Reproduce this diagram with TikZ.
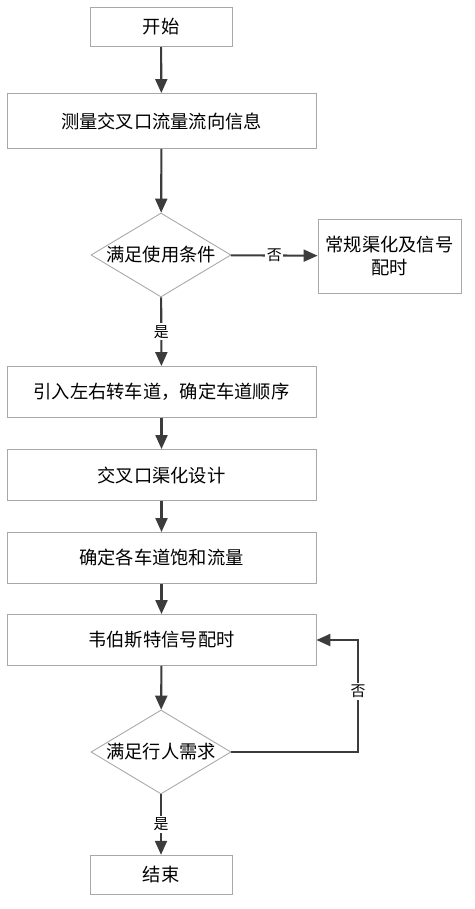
\documentclass[tikz,border=0pt]{standalone}
\usepackage{fontspec}
\setmainfont{Noto Sans CJK SC}
\usepackage{tikz}
\usetikzlibrary{shapes.geometric,arrows.meta}
\definecolor{linegray}{HTML}{A8A8A8}
\definecolor{arrowgray}{HTML}{3C3C3C}

\begin{document}
\begin{tikzpicture}[x=0.02cm,y=-0.02cm,
    box/.style={draw=linegray,line width=0.5pt,fill=white,align=center,font=\fontsize{10.4}{13.5}\selectfont},
    smallbox/.style={box,minimum width=2.84cm,minimum height=0.79cm},
    widebox/.style={box,minimum width=6.18cm,minimum height=1.02cm},
    decide/.style={diamond,draw=linegray,line width=0.5pt,fill=white,inner sep=0pt,minimum width=2.8cm,minimum height=1.68cm,font=\fontsize{10.4}{13.5}\selectfont},
    flow/.style={draw=arrowgray,line width=1.2pt,-{Triangle[length=0.28cm,width=0.24cm]}},
    answer/.style={fill=white,inner sep=1pt,font=\fontsize{8.5}{10}\selectfont}]
    \useasboundingbox (0,0) rectangle (474,909);
    \node[smallbox] (start) at (161,27) {开始};
    \node[widebox,minimum height=1.1cm] (measure) at (161.5,121) {测量交叉口流量流向信息};
    \node[decide] (cond) at (161,255) {\makebox[0pt]{满足使用条件}};
    \node[box,minimum width=2.86cm,minimum height=1.48cm] (normal) at (389.5,256) {常规渠化及信号\\配时};
    \node[widebox] (lanes) at (161.5,392) {引入左右转车道，确定车道顺序};
    \node[widebox] (channel) at (161.5,475) {交叉口渠化设计};
    \node[widebox] (satur) at (161.5,558) {确定各车道饱和流量};
    \node[widebox] (webster) at (161.5,640) {韦伯斯特信号配时};
    \node[decide] (ped) at (161,752) {\makebox[0pt]{满足行人需求}};
    \node[smallbox] (finish) at (161,875) {结束};
    \coordinate (turn) at (358,752);
    \draw[flow] (start) -- (measure);
    \draw[flow] (measure) -- (cond);
    \draw[flow] (cond) -- node[answer] {否} (normal);
    \draw[flow] (cond) -- node[answer] {是} (lanes);
    \draw[flow] (lanes) -- (channel);
    \draw[flow] (channel) -- (satur);
    \draw[flow] (satur) -- (webster);
    \draw[flow] (webster) -- (ped);
    \draw[flow] (ped.east) -- (turn) |- node[answer,pos=0.27] {否} (webster.east);
    \draw[flow] (ped) -- node[answer] {是} (finish);
\end{tikzpicture}
\end{document}
